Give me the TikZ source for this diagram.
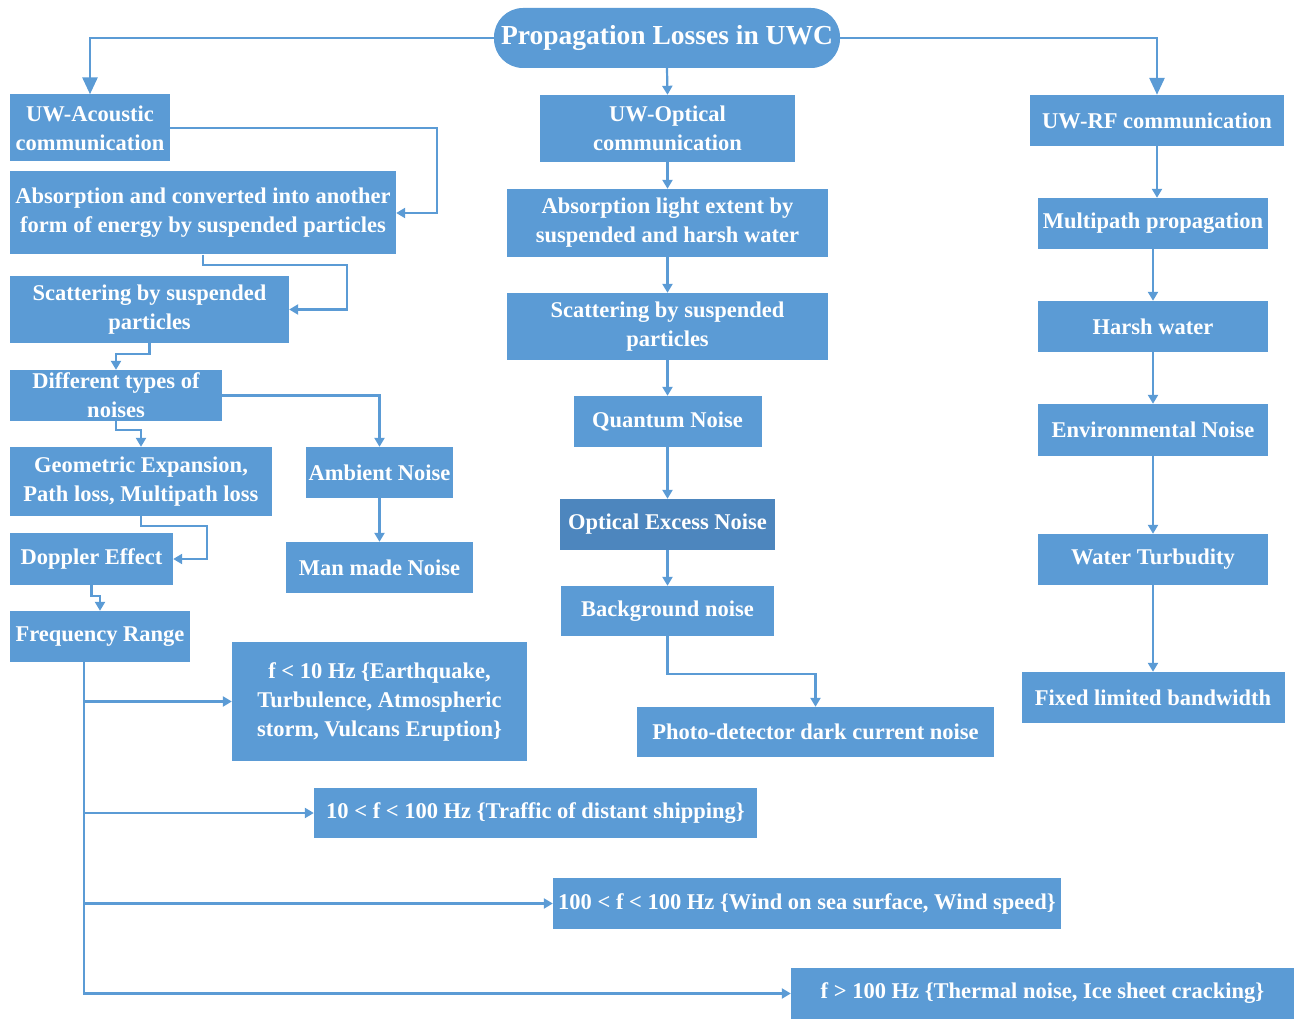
\documentclass[tikz,border=0pt]{standalone}
\usepackage{fontspec}
\setmainfont{Liberation Serif}
\usetikzlibrary{arrows.meta}
\definecolor{uwblue}{HTML}{5B9BD5}
\definecolor{uwdark}{HTML}{4D86BE}
\tikzset{
    lossbox/.style={rectangle, fill=uwblue, text=white, font=\bfseries\fontsize{22.5}{29}\selectfont, align=center, inner sep=0pt},
    link/.style={draw=uwblue, line width=2.2pt, -{Triangle[width=10pt,length=9pt]}},
    mainlink/.style={draw=uwblue, line width=2.8pt, -{Triangle[width=15pt,length=17pt]}}
}
\begin{document}
\begin{tikzpicture}[x=1pt, y=-1pt]
            \useasboundingbox (0,0) rectangle (1294,1019);
            \node (title) [lossbox, rounded corners=29pt, minimum width=346pt, minimum height=60pt, font=\bfseries\fontsize{27.5}{33}\selectfont] at (667,38) {Propagation Losses in UWC};
            \node (acoustic) [lossbox, minimum width=160pt, minimum height=67pt] at (90,128) {UW-Acoustic\\communication};
            \node (absorb) [lossbox, minimum width=386pt, minimum height=83pt] at (203,213) {Absorption and converted into another\\form of energy by suspended particles};
            \node (scat) [lossbox, minimum width=279pt, minimum height=67pt] at (149.5,309.5) {Scattering by suspended\\particles};
            \node (noises) [lossbox, minimum width=212pt, minimum height=51pt] at (116,395.5) {Different types of\\noises};
            \node (geom) [lossbox, minimum width=262pt, minimum height=69pt] at (141,481.5) {Geometric Expansion,\\Path loss, Multipath loss};
            \node (ambient) [lossbox, minimum width=147pt, minimum height=51pt] at (379.5,472.5) {Ambient Noise};
            \node (manmade) [lossbox, minimum width=187pt, minimum height=51pt] at (379.5,567.5) {Man made Noise};
            \node (doppler) [lossbox, minimum width=163pt, minimum height=52pt] at (91.5,559) {Doppler Effect};
            \node (freq) [lossbox, minimum width=180pt, minimum height=51pt] at (100,636.5) {Frequency Range};
            \node (fone) [lossbox, minimum width=295pt, minimum height=119pt] at (379.5,701.5) {f < 10 Hz \{Earthquake,\\Turbulence, Atmospheric\\storm, Vulcans Eruption\}};
            \node (ftwo) [lossbox, minimum width=443pt, minimum height=50pt] at (535.5,813) {10 < f < 100 Hz \{Traffic of distant shipping\}};
            \node (fthree) [lossbox, minimum width=508pt, minimum height=51pt] at (807,903.5) {100 < f < 100 Hz \{Wind on sea surface, Wind speed\}};
            \node (ffour) [lossbox, minimum width=503pt, minimum height=51pt] at (1042.5,993.5) {f > 100 Hz \{Thermal noise, Ice sheet cracking\}};
            \node (optical) [lossbox, minimum width=255pt, minimum height=67pt] at (667.5,128.5) {UW-Optical\\communication};
            \node (optabs) [lossbox, minimum width=321pt, minimum height=68pt] at (667.5,223) {Absorption light extent by\\suspended and harsh water};
            \node (optscat) [lossbox, minimum width=321pt, minimum height=67pt] at (667.5,326.5) {Scattering by suspended\\particles};
            \node (quantum) [lossbox, minimum width=188pt, minimum height=51pt] at (667.5,421.5) {Quantum Noise};
            \node (excess) [lossbox, fill=uwdark, minimum width=215pt, minimum height=51pt] at (667.5,524.5) {Optical Excess Noise};
            \node (background) [lossbox, minimum width=213pt, minimum height=50pt] at (667.5,611) {Background noise};
            \node (photo) [lossbox, minimum width=357pt, minimum height=50pt] at (815.5,732) {Photo-detector dark current noise};
            \node (rf) [lossbox, minimum width=254pt, minimum height=51pt] at (1157,120.5) {UW-RF communication};
            \node (multipath) [lossbox, minimum width=230pt, minimum height=51pt] at (1153,223.5) {Multipath propagation};
            \node (harsh) [lossbox, minimum width=230pt, minimum height=51pt] at (1153,326.5) {Harsh water};
            \node (envnoise) [lossbox, minimum width=230pt, minimum height=52pt] at (1153,430) {Environmental Noise};
            \node (turbidity) [lossbox, minimum width=230pt, minimum height=51pt] at (1153,559.5) {Water Turbudity};
            \node (bandwidth) [lossbox, minimum width=263pt, minimum height=51pt] at (1153,697.5) {Fixed limited bandwidth};
            \draw[mainlink] (title.west) -| (acoustic.north);
            \draw[mainlink] (title.east) -| (rf.north);
            \draw[link] (title.south) -- (optical.north);
            \draw[link] (acoustic.east) -- ++(267,0) |- (absorb.east);
            \draw[link] (absorb.south) -- ++(0,10) -| ([xshift=58pt]scat.east) -- (scat.east);
            \draw[link] (scat.south) -- ++(0,11) -| (noises.north);
            \draw[link] (noises.south) -- ++(0,9) -| (geom.north);
            \draw[link] (noises.east) -| (ambient.north);
            \draw[link] (ambient.south) -- (manmade.north);
            \draw[link] (geom.south) -- ++(0,10) -| ([xshift=34pt]doppler.east) -- (doppler.east);
            \draw[link] (doppler.south) -- ++(0,11) -| (freq.north);
            \coordinate (trunk) at ([xshift=-16pt]freq.south);
            \draw[link] (trunk) |- (ffour.west);
            \draw[link] (trunk |- fone.west) -- (fone.west);
            \draw[link] (trunk |- ftwo.west) -- (ftwo.west);
            \draw[link] (trunk |- fthree.west) -- (fthree.west);
            \draw[link] (optical.south) -- (optabs.north);
            \draw[link] (optabs.south) -- (optscat.north);
            \draw[link] (optscat.south) -- (quantum.north);
            \draw[link] (quantum.south) -- (excess.north);
            \draw[link] (excess.south) -- (background.north);
            \draw[link] (background.south) -- ++(0,38) -| (photo.north);
            \draw[link] (rf.south) -- (rf.south |- multipath.north);
            \draw[link] (multipath.south) -- (harsh.north);
            \draw[link] (harsh.south) -- (envnoise.north);
            \draw[link] (envnoise.south) -- (turbidity.north);
            \draw[link] (turbidity.south) -- (bandwidth.north);
        \end{tikzpicture}
\end{document}
